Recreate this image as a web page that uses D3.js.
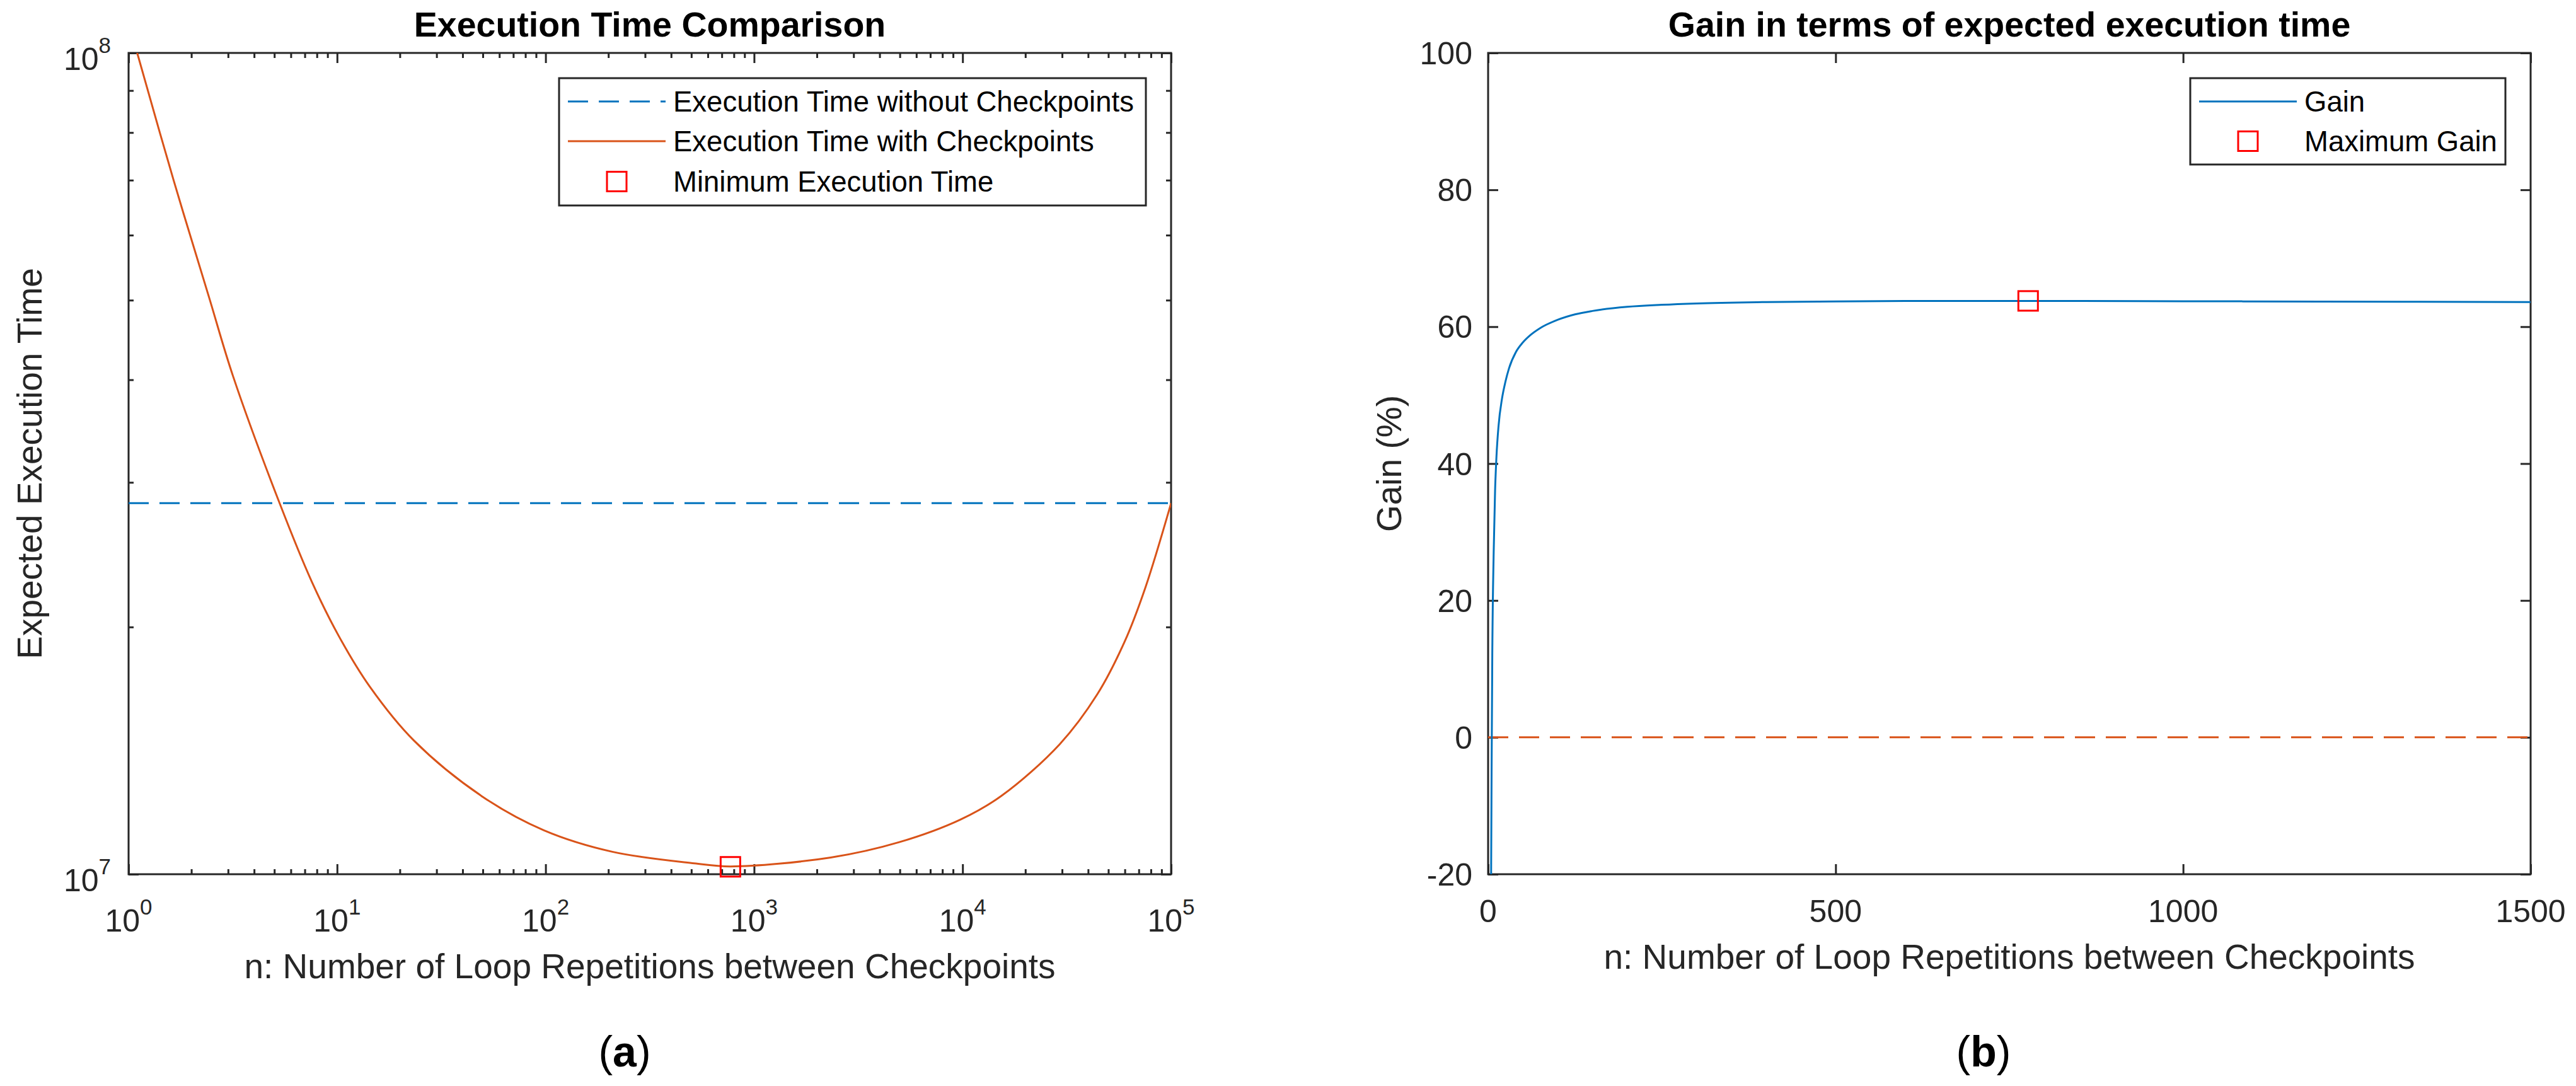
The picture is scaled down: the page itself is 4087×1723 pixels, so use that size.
<!DOCTYPE html>
<html><head><meta charset="utf-8">
<script src="https://cdn.jsdelivr.net/npm/d3@7"></script>
<style>
body{margin:0;background:#fff;}
text{font-family:"Liberation Sans", Arial, Helvetica, sans-serif;}
</style></head><body>
<svg id="fig" width="4087" height="1723" xmlns="http://www.w3.org/2000/svg"></svg>
<script>
// ---------- data ----------
const loopN = [1, 1.1, 1.644, 2.438, 3.17, 5.3, 7.55, 10.2, 14.35, 23.4, 49.8, 98.2, 209, 516, 771, 2333, 4966, 9795, 15380, 29240, 44260, 59840, 75160, 100000];
const timeWith = [1.09e8, 1.0e8, 7.0e7, 5.03e7, 4.04e7, 2.83e7, 2.273e7, 1.949e7, 1.692e7, 1.454e7, 1.243e7, 1.131e7, 1.065e7, 1.031e7, 1.022e7, 1.048e7, 1.094e7, 1.166e7, 1.246e7, 1.440e7, 1.656e7, 1.919e7, 2.231e7, 2.83e7];
const timeWithoutValue = 2.83e7;
const timeWithoutN = [1, 100000];
const minTimeN = 770, minTimeValue = 1.021e7;

const gainN = [4, 5, 6, 8, 10, 12, 15, 20, 25, 30, 40, 50, 60, 75, 100, 125, 150, 200, 250, 300, 400, 500, 600, 777, 1000, 1200, 1500];
const gainPct = [-27, -5, 12, 27, 36, 41, 45.5, 49.5, 52, 53.9, 56.3, 57.7, 58.7, 59.8, 61.0, 61.8, 62.3, 62.9, 63.2, 63.4, 63.6, 63.7, 63.75, 63.77, 63.72, 63.68, 63.6];
const zeroLineN = [0, 1500];
const maxGainN = 777, maxGainPct = 63.77;

const logXTickExp = [0, 1, 2, 3, 4, 5];
const logYTickExp = [7, 8];
const linXTicks = [0, 500, 1000, 1500];
const linYTicks = [-20, 0, 20, 40, 60, 80, 100];

const titles = ["Execution Time Comparison", "Gain in terms of expected execution time"];
const xLabel = "n: Number of Loop Repetitions between Checkpoints";
const yLabels = ["Expected Execution Time", "Gain (%)"];
const legendA = ["Execution Time without Checkpoints", "Execution Time with Checkpoints", "Minimum Execution Time"];
const legendB = ["Gain", "Maximum Gain"];
const captions = ["a", "b"];

// ---------- style ----------
const BLUE = "#0072BD", ORANGE = "#D95319", RED = "#FF0000", AX = "#262626";
const TICK_FS = 50, SUP_FS = 35, LAB_FS = 55, TITLE_FS = 55.5, LEG_FS = 45.5;
const LW = 3, AXW = 3, MAJ = 16, MIN = 8;

const svg = d3.select("#fig");
const PA = {x0: 204, x1: 1858, y0: 84, y1: 1387};
const PB = {x0: 2361, x1: 4015, y0: 84, y1: 1387};

const xA = d3.scaleLog().domain([1, 1e5]).range([PA.x0, PA.x1]);
const yA = d3.scaleLog().domain([1e7, 1e8]).range([PA.y1, PA.y0]);
const xB = d3.scaleLinear().domain([0, 1500]).range([PB.x0, PB.x1]);
const yB = d3.scaleLinear().domain([-20, 100]).range([PB.y1, PB.y0]);

const defs = svg.append("defs");
[["clipA", PA], ["clipB", PB]].forEach(([id, P]) => {
  defs.append("clipPath").attr("id", id).append("rect")
    .attr("x", P.x0).attr("y", P.y0).attr("width", P.x1 - P.x0).attr("height", P.y1 - P.y0);
});

function drawTicks(P, xs, ys, xMaj, xMin, yMaj, yMin) {
  const g = svg.append("g");
  const style = s => { s.select(".domain").remove(); s.selectAll("line").attr("stroke", AX).attr("stroke-width", AXW); };
  const mk = (fn, sc, vals, size, tr) => g.append("g").attr("transform", tr)
    .call(fn(sc).tickValues(vals).tickSize(size).tickFormat("")).call(style);
  mk(d3.axisBottom, xs, xMaj, -MAJ, `translate(0,${P.y1})`);
  mk(d3.axisTop, xs, xMaj, -MAJ, `translate(0,${P.y0})`);
  mk(d3.axisLeft, ys, yMaj, -MAJ, `translate(${P.x0},0)`);
  mk(d3.axisRight, ys, yMaj, -MAJ, `translate(${P.x1},0)`);
  if (xMin.length) {
    mk(d3.axisBottom, xs, xMin, -MIN, `translate(0,${P.y1})`);
    mk(d3.axisTop, xs, xMin, -MIN, `translate(0,${P.y0})`);
  }
  if (yMin.length) {
    mk(d3.axisLeft, ys, yMin, -MIN, `translate(${P.x0},0)`);
    mk(d3.axisRight, ys, yMin, -MIN, `translate(${P.x1},0)`);
  }
  g.append("rect").attr("x", P.x0).attr("y", P.y0).attr("width", P.x1 - P.x0).attr("height", P.y1 - P.y0)
    .attr("fill", "none").attr("stroke", AX).attr("stroke-width", AXW);
}

function powLabel(x, y, exp, anchor) {
  const t = svg.append("text").attr("x", x).attr("y", y).attr("text-anchor", anchor)
    .attr("font-size", TICK_FS).attr("fill", AX);
  t.append("tspan").text("10");
  t.append("tspan").attr("dy", -27).attr("font-size", SUP_FS).text(exp);
}

// ---------- panel A ----------
const logXMaj = logXTickExp.map(e => Math.pow(10, e));
const logXMin = [];
for (let e = 0; e < 5; e++) for (let k = 2; k <= 9; k++) logXMin.push(k * Math.pow(10, e));
const logYMaj = logYTickExp.map(e => Math.pow(10, e));
const logYMin = [];
for (let k = 2; k <= 9; k++) logYMin.push(k * 1e7);
drawTicks(PA, xA, yA, logXMaj, logXMin, logYMaj, logYMin);

logXTickExp.forEach((e, i) => powLabel(xA(logXMaj[i]), PA.y1 + 91, e, "middle"));
logYTickExp.forEach((e, i) => powLabel(PA.x0 - 28, yA(logYMaj[i]) + 27, e, "end"));

const gA = svg.append("g").attr("clip-path", "url(#clipA)");
gA.append("path")
  .datum(timeWithoutN)
  .attr("d", d3.line().x(d => xA(d)).y(() => yA(timeWithoutValue)))
  .attr("fill", "none").attr("stroke", BLUE).attr("stroke-width", LW).attr("stroke-dasharray", "32,17");
gA.append("path")
  .datum(loopN.map((n, i) => [n, timeWith[i]]))
  .attr("d", d3.line().x(d => xA(d[0])).y(d => yA(d[1])).curve(d3.curveCatmullRom.alpha(0.5)))
  .attr("fill", "none").attr("stroke", ORANGE).attr("stroke-width", LW);
svg.append("rect").attr("x", xA(minTimeN) - 15.5).attr("y", yA(minTimeValue) - 15.5)
  .attr("width", 31).attr("height", 31).attr("fill", "none").attr("stroke", RED).attr("stroke-width", 3);

// ---------- panel B ----------
drawTicks(PB, xB, yB, linXTicks, [], linYTicks, []);
linXTicks.forEach(v => svg.append("text").attr("x", xB(v)).attr("y", PB.y1 + 76)
  .attr("text-anchor", "middle").attr("font-size", TICK_FS).attr("fill", AX).text(v));
linYTicks.forEach(v => svg.append("text").attr("x", PB.x0 - 25).attr("y", yB(v) + 18)
  .attr("text-anchor", "end").attr("font-size", TICK_FS).attr("fill", AX).text(v));

const gB = svg.append("g").attr("clip-path", "url(#clipB)");
gB.append("path")
  .datum(zeroLineN)
  .attr("d", d3.line().x(d => xB(d)).y(() => yB(0)))
  .attr("fill", "none").attr("stroke", ORANGE).attr("stroke-width", LW).attr("stroke-dasharray", "32,17");
gB.append("path")
  .datum(gainN.map((n, i) => [n, gainPct[i]]))
  .attr("d", d3.line().x(d => xB(d[0])).y(d => yB(d[1])).curve(d3.curveMonotoneX))
  .attr("fill", "none").attr("stroke", BLUE).attr("stroke-width", LW);
svg.append("rect").attr("x", xB(maxGainN) - 15.5).attr("y", yB(maxGainPct) - 15.5)
  .attr("width", 31).attr("height", 31).attr("fill", "none").attr("stroke", RED).attr("stroke-width", 3);

// ---------- titles & labels ----------
[PA, PB].forEach((P, i) => {
  const cx = (P.x0 + P.x1) / 2, cy = (P.y0 + P.y1) / 2;
  svg.append("text").attr("x", cx).attr("y", 58).attr("text-anchor", "middle")
    .attr("font-size", TITLE_FS).attr("font-weight", "bold").attr("fill", "#000").text(titles[i]);
  svg.append("text").attr("x", cx).attr("y", i === 0 ? 1552 : 1537).attr("text-anchor", "middle")
    .attr("font-size", LAB_FS).attr("fill", AX).text(xLabel);
  svg.append("text").attr("transform", `translate(${P.x0 - 138},${cy}) rotate(-90)`).attr("text-anchor", "middle")
    .attr("font-size", LAB_FS).attr("fill", AX).text(yLabels[i]);
});

// ---------- legends ----------
function legend(x0, x1, y0, rows) {
  const rowY = [161, 224, 288];
  const h = rows.length === 3 ? 202 : 137;
  const g = svg.append("g");
  g.append("rect").attr("x", x0).attr("y", y0).attr("width", x1 - x0).attr("height", h)
    .attr("fill", "#fff").attr("stroke", AX).attr("stroke-width", 3);
  const sx0 = x0 + 14, sx1 = x0 + 169, tx = x0 + 181;
  rows.forEach((r, i) => {
    const y = rowY[i];
    if (r.type === "line") {
      g.append("line").attr("x1", sx0).attr("x2", sx1).attr("y1", y).attr("y2", y)
        .attr("stroke", r.color).attr("stroke-width", LW).attr("stroke-dasharray", r.dash || null);
    } else {
      const cx = (sx0 + sx1) / 2;
      g.append("rect").attr("x", cx - 15.5).attr("y", y - 15.5).attr("width", 31).attr("height", 31)
        .attr("fill", "none").attr("stroke", r.color).attr("stroke-width", 3);
    }
    g.append("text").attr("x", tx).attr("y", y + 16).attr("font-size", LEG_FS).attr("fill", "#000").text(r.label);
  });
}
legend(887, 1818, 124, [
  {type: "line", color: BLUE, dash: "32,17", label: legendA[0]},
  {type: "line", color: ORANGE, label: legendA[1]},
  {type: "marker", color: RED, label: legendA[2]}
]);
legend(3475, 3975, 124, [
  {type: "line", color: BLUE, label: legendB[0]},
  {type: "marker", color: RED, label: legendB[1]}
]);

// ---------- captions ----------
[[991, captions[0]], [3147, captions[1]]].forEach(([x, c]) => {
  const t = svg.append("text").attr("x", x).attr("y", 1692).attr("text-anchor", "middle")
    .attr("font-family", "'Liberation Serif', 'Times New Roman', serif").attr("font-size", 68).attr("fill", "#000");
  t.append("tspan").text("(");
  t.append("tspan").attr("font-weight", "bold").text(c);
  t.append("tspan").text(")");
});
</script>
</body></html>
